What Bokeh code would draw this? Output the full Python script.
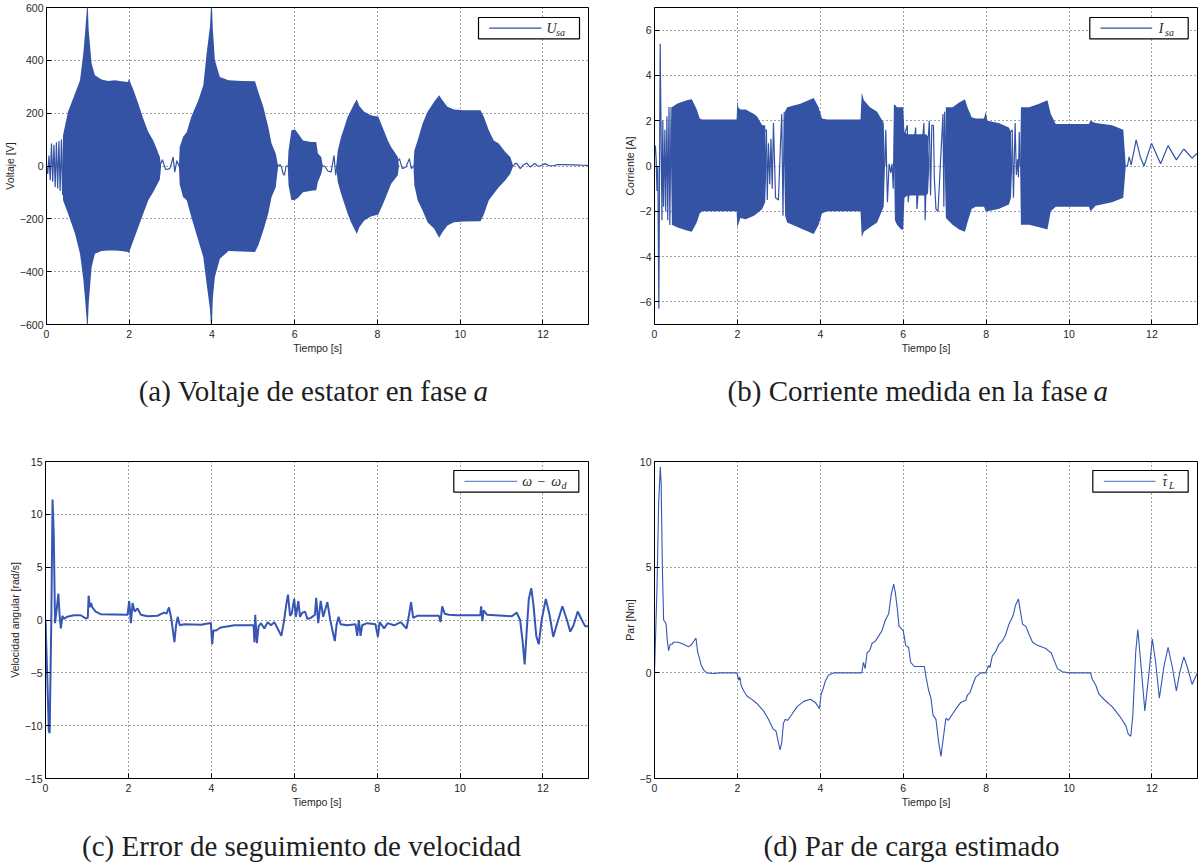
from bokeh.plotting import figure
from bokeh.layouts import row, column
from bokeh.models import Range1d, FixedTicker, BoxAnnotation, Label, Arrow
from bokeh.embed import file_html
from bokeh.resources import INLINE

# ---------------- data ----------------
X_TICKS = [0, 2, 4, 6, 8, 10, 12]
A_TICKS = [-600, -400, -200, 0, 200, 400, 600]
B_TICKS = [-6, -4, -2, 0, 2, 4, 6]
C_TICKS = [-15, -10, -5, 0, 5, 10, 15]
D_TICKS = [-5, 0, 5, 10]

# (a) stator voltage: envelope of the dense oscillation (t, upper, lower)
A_ENV = [
    (0.38, 0, 0), (0.40, 116, -130), (0.52, 205, -180), (0.69, 274, -256), (0.81, 325, -332),
    (0.89, 426, -430), (0.93, 501, -500), (0.97, 580, -580), (0.99, 640, -640), (1.02, 514, -520),
    (1.09, 388, -383), (1.17, 344, -332), (1.33, 327, -322), (1.49, 322, -320), (1.65, 325, -320),
    (1.81, 321, -322), (1.97, 318, -326), (1.99, 330, -330), (2.10, 289, -282), (2.22, 236, -231),
    (2.34, 179, -180), (2.46, 129, -130), (2.58, 97, -98), (2.66, 66, -75), (2.74, 34, -50), (2.77, 0, 0),
    (3.20, 0, 0), (3.22, 72, -70), (3.30, 110, -117), (3.39, 129, -130), (3.50, 186, -193),
    (3.67, 249, -282), (3.79, 306, -345), (3.87, 426, -446), (3.95, 527, -540), (3.99, 640, -640),
    (4.02, 520, -500), (4.07, 400, -420), (4.19, 337, -351), (4.40, 325, -322), (4.72, 322, -324),
    (5.04, 321, -326), (5.12, 280, -300), (5.24, 224, -244), (5.36, 148, -180), (5.44, 85, -117),
    (5.54, 47, -80), (5.60, 0, 0),
    (5.83, 0, 0), (5.85, 59, -73), (5.92, 135, -130), (6.01, 138, -128), (6.08, 123, -120),
    (6.20, 97, -99), (6.40, 91, -94), (6.52, 91, -92), (6.56, 47, -60), (6.64, 34, -30), (6.68, 0, 0),
    (7.00, 0, 0), (7.04, 59, -61), (7.12, 110, -105), (7.20, 148, -143), (7.28, 186, -181),
    (7.36, 211, -213), (7.44, 237, -238), (7.50, 252, -257), (7.56, 227, -232), (7.68, 205, -206),
    (7.84, 192, -191), (8.02, 186, -184), (8.12, 148, -149), (8.25, 97, -99), (8.33, 72, -67),
    (8.49, 34, -35), (8.52, 0, 0),
    (8.87, 0, 0), (8.89, 59, -73), (8.97, 97, -130), (9.09, 161, -168), (9.21, 205, -213),
    (9.37, 243, -238), (9.49, 268, -272), (9.57, 249, -251), (9.69, 224, -225), (9.85, 214, -213),
    (10.09, 211, -210), (10.49, 211, -209), (10.57, 186, -184), (10.69, 135, -130), (10.81, 97, -105),
    (10.93, 85, -80), (11.09, 53, -54), (11.21, 34, -29), (11.28, 0, 0),
]
# (a) stator voltage: visible single trace outside the dense bursts (t, V)
A_SIG = [
    (0.00, 0), (0.03, -30), (0.06, 40), (0.09, -54), (0.12, 85), (0.15, -60), (0.18, 80),
    (0.21, -80), (0.24, 90), (0.27, -85), (0.30, 95), (0.33, -95), (0.36, 100), (0.39, -110),
    (0.41, 0), (1.50, 0), (2.77, 10), (2.80, 24), (2.84, 5), (2.88, -13), (2.93, -12), (2.98, -10),
    (3.02, 10), (3.06, 34), (3.10, -23), (3.15, 20), (3.19, 5), (3.21, 0), (4.50, 0), (5.60, 0),
    (5.64, 6), (5.68, -5), (5.72, -30), (5.75, -35), (5.79, 0), (5.83, 0), (6.40, 0), (6.68, 0),
    (6.72, 0), (6.80, -19), (6.88, -22), (6.95, 40), (6.99, -35), (7.02, 0), (7.80, 0), (8.50, 20),
    (8.53, 28), (8.60, -10), (8.69, -4), (8.77, 28), (8.82, -10), (8.87, 0), (10.00, 0), (11.28, 0),
    (11.33, 10), (11.37, 9), (11.45, -10), (11.53, 5), (11.61, 11), (11.69, -4), (11.77, 6),
    (11.81, 9), (11.87, 0), (11.93, 0), (12.05, 9), (12.15, 1), (12.25, 1), (12.35, 5), (12.50, 5),
    (12.74, 4), (12.90, 3), (13.10, 2),
]

# (b) phase current: envelope (t, upper, lower)
B_ENV = [
    (0.40, 0, 0), (0.42, 2.6, -2.6), (0.54, 2.75, -2.7), (0.78, 2.9, -2.85), (0.90, 2.95, -2.9),
    (1.02, 2.5, -2.5), (1.09, 2.1, -2.1), (1.15, 2.05, -2.0), (1.30, 2.05, -2.0), (1.98, 2.05, -2.0),
    (2.00, 2.9, -2.7), (2.02, 2.6, -2.6), (2.07, 2.5, -2.3), (2.20, 2.5, -2.35), (2.40, 2.3, -2.2),
    (2.47, 2.2, -2.1), (2.60, 1.8, -1.9), (2.67, 1.8, -1.6), (2.70, 0, 0),
    (3.13, 0, 0), (3.15, 2.4, -2.2), (3.20, 2.6, -2.5), (3.52, 2.75, -2.75), (3.84, 3.0, -3.0),
    (3.96, 2.6, -2.6), (4.04, 2.1, -2.1), (4.16, 2.05, -2.0), (4.97, 2.05, -2.0), (5.00, 3.25, -3.15),
    (5.05, 2.9, -2.9), (5.20, 2.6, -2.7), (5.37, 2.4, -2.5), (5.53, 1.9, -1.8), (5.56, 0, 0),
    (5.78, 0, 0), (5.80, 2.7, -2.4), (5.85, 2.6, -2.6), (5.95, 2.6, -2.8), (6.00, 2.6, -2.8),
    (6.03, 1.5, -1.4), (6.10, 1.4, -1.3), (6.30, 1.4, -1.3), (6.55, 1.4, -1.3), (6.60, 1.3, -1.2),
    (6.63, 0, 0),
    (7.00, 0, 0), (7.03, 2.6, -2.3), (7.19, 2.6, -2.6), (7.35, 2.8, -2.8), (7.49, 2.95, -2.9),
    (7.55, 2.6, -2.5), (7.65, 2.15, -1.9), (7.75, 2.1, -1.8), (7.95, 2.1, -1.8), (7.99, 2.4, -2.0),
    (8.03, 2.0, -2.0), (8.30, 1.9, -1.9), (8.55, 1.7, -1.7), (8.60, 1.5, -1.4), (8.63, 0, 0),
    (8.82, 0, 0), (8.84, 2.6, -2.6), (9.04, 2.6, -2.6), (9.28, 2.75, -2.7), (9.48, 2.9, -2.8),
    (9.56, 2.3, -2.0), (9.68, 1.85, -1.8), (10.48, 1.85, -1.8), (10.52, 2.0, -2.0),
    (10.64, 1.9, -1.75), (11.04, 1.8, -1.6), (11.31, 1.6, -1.4), (11.37, 0, 0),
]
# (b) phase current: visible single trace (t, I)
B_SIG = [
    (0.00, 0.5), (0.02, 0.9), (0.04, 0.3), (0.06, -1.1), (0.08, 0.0), (0.105, -6.3), (0.137, 5.4),
    (0.18, -2.4), (0.20, 2.0), (0.22, -1.8), (0.25, 1.6), (0.27, -2.0), (0.30, 2.2), (0.32, -2.4),
    (0.35, 2.6), (0.37, -2.6), (0.40, 2.6), (0.42, 0.0), (1.50, 0.0), (2.70, 1.6), (2.72, -1.5),
    (2.75, 1.0), (2.78, -0.8), (2.81, 1.2), (2.84, -1.0), (2.87, 1.9), (2.92, -1.4), (2.99, -1.5),
    (3.04, 1.0), (3.07, 2.3), (3.10, -2.2), (3.13, 2.4), (3.15, 0.0), (4.50, 0.0), (5.56, 0.0),
    (5.58, 1.6), (5.62, -1.6), (5.66, 0.1), (5.70, -0.3), (5.73, 0.1), (5.76, -1.0), (5.79, 2.7),
    (5.80, 0.0), (6.10, 1.8), (6.12, -1.6), (6.30, 1.7), (6.33, -1.9), (6.50, 1.9), (6.53, -2.4),
    (6.56, 0.0), (6.63, 2.0), (6.66, -1.3), (6.69, 1.8), (6.73, 1.8), (6.75, -0.5), (6.79, -1.9),
    (6.84, -2.0), (6.89, -0.2), (6.92, 0.9), (6.96, 2.3), (6.98, -1.8), (7.00, 2.4), (7.02, 0.0),
    (8.00, 0.0), (8.63, 1.6), (8.66, -1.4), (8.70, 1.9), (8.73, -0.4), (8.76, 0.3), (8.78, -0.5),
    (8.80, 1.5), (8.82, 0.0), (10.00, 0.0), (11.37, 0.0), (11.41, 0.0), (11.45, 0.4), (11.50, 0.05),
    (11.62, 1.15), (11.72, 0.4), (11.81, 0.0), (11.99, 1.0), (12.21, 0.1), (12.39, 0.9),
    (12.59, 0.27), (12.77, 0.75), (12.97, 0.35), (13.09, 0.55),
]

# (c) speed tracking error (t, rad/s)
C_SIG = [
    (0.00, 0.0), (0.04, -5.0), (0.08, -10.5), (0.10, -10.7), (0.14, 0.0), (0.17, 11.4), (0.20, 8.0),
    (0.23, -0.3), (0.27, 1.0), (0.31, 2.5), (0.34, 0.5), (0.37, -0.8), (0.41, 0.4), (0.44, 0.1),
    (0.52, 0.3), (0.69, 0.45), (0.85, 0.45), (0.97, 0.15), (1.02, 0.2), (1.04, 2.3), (1.07, 1.2),
    (1.10, 1.6), (1.13, 1.2), (1.21, 0.8), (1.33, 0.55), (1.98, 0.5), (2.02, 1.8), (2.06, -0.3),
    (2.10, 1.6), (2.15, 0.8), (2.22, 1.1), (2.30, 0.5), (2.46, 0.35), (2.70, 0.4), (2.86, 0.7),
    (2.92, 0.6), (2.98, 1.2), (3.04, 0.0), (3.09, -1.5), (3.11, -2.1), (3.15, -0.5), (3.19, 0.3),
    (3.24, -0.5), (3.35, -0.4), (3.75, -0.45), (3.95, -0.3), (3.99, -0.3), (4.02, -2.3),
    (4.05, -1.0), (4.11, -1.0), (4.15, -0.9), (4.23, -0.7), (4.56, -0.5), (5.02, -0.5),
    (5.04, -2.1), (5.06, 0.5), (5.10, -2.2), (5.14, -0.6), (5.20, -0.3), (5.28, -0.8), (5.36, -0.2),
    (5.44, -0.5), (5.52, -0.2), (5.60, -0.8), (5.69, -1.5), (5.75, -0.2), (5.81, 1.5), (5.85, 2.4),
    (5.90, 0.4), (5.94, 0.6), (6.00, 2.0), (6.04, 0.3), (6.10, 1.8), (6.14, 0.3), (6.20, 0.7),
    (6.26, 0.8), (6.32, 0.1), (6.40, 0.2), (6.50, 0.5), (6.53, 2.1), (6.58, -0.3), (6.64, 1.8),
    (6.70, 0.3), (6.80, 1.7), (6.87, 0.0), (6.94, -1.3), (6.98, -2.0), (7.02, -0.5), (7.07, 0.3),
    (7.12, -0.4), (7.28, -0.5), (7.48, -0.4), (7.52, -1.5), (7.56, 0.0), (7.60, -1.5), (7.64, -0.5),
    (7.76, -0.3), (7.96, -0.4), (8.02, -1.6), (8.06, -0.2), (8.17, -0.8), (8.25, -0.3), (8.41, -0.5),
    (8.57, -0.2), (8.71, -0.8), (8.77, 0.5), (8.82, 1.7), (8.87, 0.2), (8.97, 0.4), (9.49, 0.4),
    (9.53, -0.2), (9.57, 1.3), (9.63, 0.6), (9.73, 0.5), (9.93, 0.45), (10.49, 0.45), (10.51, 1.3),
    (10.54, -0.1), (10.57, 0.9), (10.65, 0.5), (11.05, 0.4), (11.25, 0.35), (11.37, 0.7),
    (11.45, 0.0), (11.51, -2.0), (11.56, -4.2), (11.61, -1.0), (11.66, 2.0), (11.72, 3.0),
    (11.77, 1.5), (11.84, -1.5), (11.90, -2.3), (11.97, 0.0), (12.07, 2.0), (12.16, 0.5),
    (12.25, -1.6), (12.33, -0.5), (12.47, 1.3), (12.58, 0.0), (12.66, -1.1), (12.74, -0.5),
    (12.84, 0.8), (12.94, 0.0), (13.02, -0.6), (13.10, -0.6),
]

# (d) estimated load torque (t, Nm)
D_SIG = [
    (0.00, 0.0), (0.06, 4.0), (0.10, 8.0), (0.14, 9.75), (0.16, 9.0), (0.19, 5.0), (0.22, 2.5),
    (0.26, 2.4), (0.28, 2.3), (0.31, 1.5), (0.34, 1.05), (0.38, 1.35), (0.42, 1.35), (0.46, 1.45),
    (0.58, 1.45), (0.70, 1.35), (0.82, 1.23), (0.90, 1.35), (1.00, 1.65), (1.04, 1.0), (1.09, 0.65),
    (1.12, 0.4), (1.18, 0.15), (1.26, 0.0), (1.42, -0.03), (1.59, 0.0), (1.99, 0.0), (2.03, -0.35),
    (2.06, -0.2), (2.09, -0.6), (2.15, -0.85), (2.23, -1.1), (2.31, -1.2), (2.47, -1.45),
    (2.63, -1.8), (2.75, -2.2), (2.86, -2.65), (2.93, -2.75), (2.99, -3.3), (3.03, -3.65),
    (3.07, -3.3), (3.11, -2.4), (3.15, -2.2), (3.21, -2.25), (3.32, -1.95), (3.44, -1.6),
    (3.60, -1.35), (3.76, -1.25), (3.88, -1.4), (3.98, -1.7), (4.02, -1.0), (4.06, -0.8),
    (4.12, -0.4), (4.20, -0.1), (4.33, 0.0), (5.00, 0.0), (5.04, 0.5), (5.08, 0.2), (5.13, 0.95),
    (5.19, 1.05), (5.25, 1.4), (5.33, 1.5), (5.41, 1.75), (5.49, 2.0), (5.57, 2.5), (5.65, 2.8),
    (5.71, 3.7), (5.77, 4.2), (5.81, 3.8), (5.86, 3.0), (5.90, 2.2), (6.00, 2.0), (6.06, 1.3),
    (6.13, 1.2), (6.18, 0.5), (6.27, 0.3), (6.39, 0.3), (6.51, 0.3), (6.56, -0.3), (6.61, -0.8),
    (6.67, -1.2), (6.72, -2.0), (6.79, -2.2), (6.85, -3.2), (6.91, -3.95), (6.96, -3.2),
    (7.03, -2.15), (7.09, -2.25), (7.19, -1.95), (7.31, -1.6), (7.39, -1.4), (7.51, -1.3),
    (7.55, -1.05), (7.61, -0.95), (7.67, -0.6), (7.75, -0.2), (7.87, 0.0), (7.99, 0.0),
    (8.06, 0.35), (8.09, 0.25), (8.15, 0.8), (8.23, 1.0), (8.31, 1.35), (8.39, 1.5), (8.47, 1.8),
    (8.55, 2.3), (8.65, 2.7), (8.71, 3.2), (8.78, 3.5), (8.82, 3.0), (8.88, 2.3), (8.96, 2.2),
    (9.04, 1.8), (9.12, 1.45), (9.24, 1.3), (9.44, 1.15), (9.53, 1.0), (9.57, 0.95), (9.64, 0.6),
    (9.72, 0.2), (9.84, 0.05), (10.00, 0.0), (10.52, 0.0), (10.56, -0.3), (10.64, -0.55),
    (10.72, -1.0), (10.84, -1.25), (11.04, -1.6), (11.24, -2.1), (11.37, -2.5), (11.43, -2.9),
    (11.49, -3.0), (11.54, -2.0), (11.61, 1.0), (11.66, 2.05), (11.73, 0.5), (11.83, -1.8),
    (11.93, 0.0), (12.01, 1.6), (12.09, 0.5), (12.18, -1.2), (12.29, 0.3), (12.39, 1.2),
    (12.49, 0.3), (12.59, -0.85), (12.67, 0.0), (12.77, 0.75), (12.85, 0.3), (12.97, -0.55),
    (13.05, -0.2), (13.10, 0.0),
]

CAPTIONS = [
    ("(a) Voltaje de estator en fase", "a"),
    ("(b) Corriente medida en la fase", "a"),
    ("(c) Error de seguimiento de velocidad", None),
    ("(d) Par de carga estimado", None),
]

# ---------------- styling ----------------
BLUE = "#3453a5"
LINE_BLUE = "#3556b4"
LEG_BLUE = "#6f89cf"
TXT = "#262626"
SANS = "Liberation Sans"
SERIF = "Liberation Serif"
CAP_SIZE = "29px"


def minus(v):
    return str(v).replace("-", "\u2212")


def make_fig(w, h, bl, br, bt, bb, yr, yticks, ylabel):
    p = figure(width=w, height=h, x_range=Range1d(0, 13.1), y_range=Range1d(*yr),
               output_backend="svg", toolbar_location=None,
               min_border_left=bl, min_border_right=br, min_border_top=bt, min_border_bottom=bb)
    p.background_fill_color = "white"
    p.border_fill_color = "white"
    p.outline_line_color = "black"
    p.outline_line_width = 1
    p.xaxis.ticker = FixedTicker(ticks=X_TICKS)
    p.yaxis.ticker = FixedTicker(ticks=yticks)
    p.yaxis.major_label_overrides = {v: minus(v) for v in yticks}
    p.xaxis.axis_label = "Tiempo [s]"
    p.yaxis.axis_label = ylabel
    for ax in (p.xaxis, p.yaxis):
        ax.axis_line_color = "black"
        ax.major_tick_in = 5
        ax.major_tick_out = 0
        ax.minor_tick_line_color = None
        ax.major_tick_line_color = "black"
        ax.major_label_text_font = SANS
        ax.major_label_text_font_size = "10.5px"
        ax.major_label_text_color = TXT
        ax.axis_label_text_font = SANS
        ax.axis_label_text_font_size = "10.5px"
        ax.axis_label_text_font_style = "normal"
        ax.axis_label_text_color = TXT
    p.xaxis.major_label_standoff = 5
    p.xaxis.axis_label_standoff = 1
    p.yaxis.major_label_standoff = 3
    p.yaxis.axis_label_standoff = 1
    p.xgrid.ticker = FixedTicker(ticks=X_TICKS)
    p.ygrid.ticker = FixedTicker(ticks=yticks)
    for g in (p.xgrid, p.ygrid):
        g.grid_line_color = "#222222"
        g.grid_line_dash = "1 3"
        g.grid_line_width = 1
        g.grid_line_alpha = 0.85
    return p


def make_cap(w, h, x, y, main, ital):
    c = figure(width=w, height=h, x_range=Range1d(0, w), y_range=Range1d(0, h),
               output_backend="svg", toolbar_location=None, x_axis_type=None, y_axis_type=None,
               min_border=0, min_border_left=0, min_border_right=0, min_border_top=0,
               min_border_bottom=0)
    c.outline_line_color = None
    c.xgrid.visible = False
    c.ygrid.visible = False
    if ital:
        c.add_layout(Label(x=x, y=y, text=main, text_font=SERIF, text_font_size=CAP_SIZE,
                           text_color="#1e1e1e", text_baseline="middle", text_align="right"))
        c.add_layout(Label(x=x + 6, y=y, text=ital, text_font=SERIF, text_font_size=CAP_SIZE,
                           text_font_style="italic", text_color="#1e1e1e",
                           text_baseline="middle", text_align="left"))
    else:
        c.add_layout(Label(x=x, y=y, text=main, text_font=SERIF, text_font_size=CAP_SIZE,
                           text_color="#1e1e1e", text_baseline="middle", text_align="center"))
    return c


def legend(p, left, right, bottom, top, lx0, lx1, color, parts):
    p.add_layout(BoxAnnotation(left=left, right=right, bottom=bottom, top=top,
                               left_units="screen", right_units="screen",
                               bottom_units="screen", top_units="screen",
                               fill_color="white", fill_alpha=1.0,
                               line_color="black", line_width=1.2, line_alpha=1.0))
    ym = (bottom + top) / 2
    p.add_layout(Arrow(x_start=lx0, y_start=ym, x_end=lx1, y_end=ym,
                       start_units="screen", end_units="screen", end=None,
                       line_color=color, line_width=1.2))
    for (x, dy, txt, size, style) in parts:
        p.add_layout(Label(x=x, y=ym + dy, x_units="screen", y_units="screen", text=txt,
                           text_font=SERIF, text_font_size=size, text_font_style=style,
                           text_color=TXT, text_baseline="middle", text_align="left"))


def env_cols(env):
    return [e[0] for e in env], [e[1] for e in env], [e[2] for e in env]


def sig_cols(sig):
    return [s[0] for s in sig], [s[1] for s in sig]


# ---------------- (a) ----------------
pa = make_fig(600, 364, 45, 12, 7, 40, (-600, 600), A_TICKS, "Voltaje [V]")
t, hi, lo = env_cols(A_ENV)
pa.varea(x=t, y1=lo, y2=hi, fill_color=BLUE, fill_alpha=1.0)
t, v = sig_cols(A_SIG)
pa.line(t, v, line_color=BLUE, line_width=1.2)
legend(pa, 432, 533, 285.7, 307, 442.7, 495, BLUE,
       [(500, 0, "U", "14px", "italic"), (509.5, -4, "sa", "10px", "italic")])

# ---------------- (b) ----------------
pb = make_fig(602, 364, 54, 5, 7, 40, (-7, 7), B_TICKS, "Corriente [A]")
t, hi, lo = env_cols(B_ENV)
pb.varea(x=t, y1=lo, y2=hi, fill_color=BLUE, fill_alpha=1.0)
t, v = sig_cols(B_SIG)
pb.line(t, v, line_color=BLUE, line_width=1.2)
legend(pb, 435.3, 533.7, 285.7, 307, 446, 497.7, BLUE,
       [(504.3, 0, "I", "14px", "italic"), (510.5, -4, "sa", "10px", "italic")])

# ---------------- (c) ----------------
pc = make_fig(600, 388, 45, 12, 31, 40, (-15, 15), C_TICKS, "Velocidad angular [rad/s]")
t, v = sig_cols(C_SIG)
pc.line(t, v, line_color=LINE_BLUE, line_width=2)
legend(pc, 408.3, 533.3, 286.3, 308, 419, 471.7, LEG_BLUE,
       [(476.7, 0, "\u03c9", "14px", "italic"), (492, 0, "\u2212", "14px", "normal"),
        (505.7, 0, "\u03c9", "14px", "italic"), (516, -4, "d", "10px", "italic")])

# ---------------- (d) ----------------
pd_ = make_fig(602, 388, 54, 5, 31, 40, (-5, 10), D_TICKS, "Par [Nm]")
t, v = sig_cols(D_SIG)
pd_.line(t, v, line_color=LINE_BLUE, line_width=1.1)
legend(pd_, 438.3, 533.7, 286.3, 308, 449.3, 501, LEG_BLUE,
       [(507.7, 0, "\u03c4", "14px", "italic"), (509.0, 2, "\u02c6", "12px", "normal"),
        (514.5, -4, "L", "10px", "italic")])

# ---------------- captions ----------------
cap_a = make_cap(600, 66, 467, 40, *CAPTIONS[0])
cap_b = make_cap(602, 66, 487, 40, *CAPTIONS[1])
cap_c = make_cap(600, 45, 301, 18, *CAPTIONS[2])
cap_d = make_cap(602, 45, 311, 18, *CAPTIONS[3])

layout = column(row(pa, pb), row(cap_a, cap_b), row(pc, pd_), row(cap_c, cap_d))
open("out.html", "w").write(file_html(layout, INLINE))
